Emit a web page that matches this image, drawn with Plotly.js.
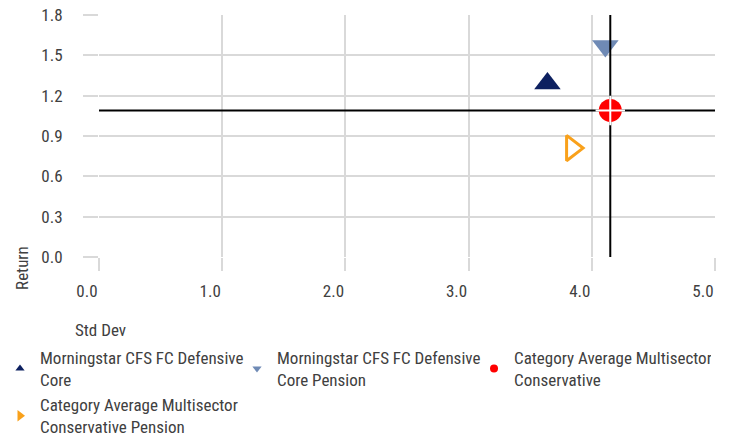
<!DOCTYPE html>
<html>
<head>
<meta charset="utf-8">
<script src="https://cdn.plot.ly/plotly-3.0.1.min.js"></script>
<style>
html,body{margin:0;padding:0;background:#fff;}
#chart{width:729px;height:441px;}
</style>
</head>
<body>
<div id="chart"></div>
<script>
// ---- data ----
const seriesNames = [
  "Morningstar CFS FC Defensive<br>Core",
  "Morningstar CFS FC Defensive<br>Core Pension",
  "Category Average Multisector<br>Conservative",
  "Category Average Multisector<br>Conservative Pension"
];
const stdDev = [3.64, 4.11, 4.15, 3.84];
const returns = [1.29, 1.57, 1.09, 0.81];
const xTicks = [0, 1, 2, 3, 4, 5];
const xTickLabels = ["0.0", "1.0", "2.0", "3.0", "4.0", "5.0"];
const yTicks = [0, 0.3, 0.6, 0.9, 1.2, 1.5, 1.8];
const yTickLabels = ["0.0", "0.3", "0.6", "0.9", "1.2", "1.5", "1.8"];

// ---- styles ----
const FONT = "'Roboto Condensed','Liberation Sans Narrow','Arial Narrow',Roboto,sans-serif";
const TXT = "#404040";
const GRID = "#d9d9d9";
const colors = ["#0d2060", "#6f8ab5", "#ff0000", "#f9a11b"];
const symbols = ["triangle-up", "triangle-down", "circle", "triangle-right-open"];

const xMin = xTicks[0], xMax = xTicks[xTicks.length - 1];
const yMin = yTicks[0], yMax = yTicks[yTicks.length - 1];
const avgIdx = 2;

function pointTrace(i) {
  const open = symbols[i].endsWith("open");
  return {
    type: "scatter", mode: "markers",
    x: [stdDev[i]], y: [returns[i]],
    showlegend: false, hoverinfo: "skip", cliponaxis: false,
    marker: {
      symbol: symbols[i], size: open ? 22 : 23, color: colors[i],
      line: { color: colors[i], width: open ? 3 : 0 }
    }
  };
}
function legendTrace(i) {
  const open = symbols[i].endsWith("open");
  return {
    type: "scatter", mode: "markers", x: [null], y: [null],
    name: seriesNames[i], showlegend: true,
    marker: {
      symbol: symbols[i].replace("-open", ""), size: open ? 10 : 8, color: colors[i],
      line: { color: colors[i], width: 0 }
    }
  };
}

const traces = [
  pointTrace(0), pointTrace(1),
  { type: "scatter", mode: "lines", x: [stdDev[avgIdx], stdDev[avgIdx]], y: [yMin, yMax],
    line: { color: "#000", width: 2 }, showlegend: false, hoverinfo: "skip" },
  { type: "scatter", mode: "lines", x: [xMin, xMax], y: [returns[avgIdx], returns[avgIdx]],
    line: { color: "#000", width: 2 }, showlegend: false, hoverinfo: "skip", cliponaxis: false },
  pointTrace(2),
  { type: "scatter", mode: "markers", x: [stdDev[avgIdx]], y: [returns[avgIdx]],
    showlegend: false, hoverinfo: "skip", cliponaxis: false,
    marker: { symbol: "cross-thin-open", size: 21, color: "#fff", line: { color: "#fff", width: 2 } } },
  pointTrace(3),
  legendTrace(0), legendTrace(1), legendTrace(2), legendTrace(3)
];

const layout = {
  width: 729, height: 441,
  margin: { l: 99, r: 14, t: 15, b: 184, autoexpand: false },
  paper_bgcolor: "#fff", plot_bgcolor: "#fff",
  font: { family: FONT, size: 17, color: TXT },
  showlegend: true,
  xaxis: {
    range: [xMin, xMax], tickmode: "array", tickvals: xTicks, ticktext: xTickLabels,
    showgrid: true, gridcolor: GRID, gridwidth: 2, zeroline: false, showline: false,
    ticks: "outside", ticklen: 13, tickwidth: 2, tickcolor: GRID,
    ticklabelshift: -12, ticklabelstandoff: 6,
    tickfont: { family: FONT, size: 17, color: TXT }
  },
  yaxis: {
    range: [yMin, yMax], tickmode: "array", tickvals: yTicks, ticktext: yTickLabels,
    showgrid: true, gridcolor: GRID, gridwidth: 2, zeroline: false, showline: false,
    ticks: "outside", ticklen: 15, tickwidth: 2, tickcolor: GRID,
    ticklabelstandoff: 17,
    tickfont: { family: FONT, size: 17, color: TXT }
  },
  legend: {
    orientation: "h", x: -0.1607, xanchor: "left", y: -0.343, yanchor: "top",
    entrywidth: 192, entrywidthmode: "pixels",
    font: { family: FONT, size: 17, color: TXT },
    itemwidth: 30, tracegroupgap: 0, bgcolor: "rgba(0,0,0,0)"
  },
  annotations: [
    { text: "Return", xref: "paper", yref: "paper",
      x: -0.125, y: -0.045, textangle: -90, showarrow: false,
      xanchor: "center", yanchor: "middle",
      font: { family: FONT, size: 17, color: TXT } },
    { text: "Std Dev", xref: "paper", yref: "paper",
      x: 0.002, y: -0.3, showarrow: false,
      xanchor: "center", yanchor: "middle",
      font: { family: FONT, size: 17, color: TXT } }
  ]
};

Plotly.newPlot("chart", traces, layout, { staticPlot: true, displayModeBar: false });
</script>
</body>
</html>
